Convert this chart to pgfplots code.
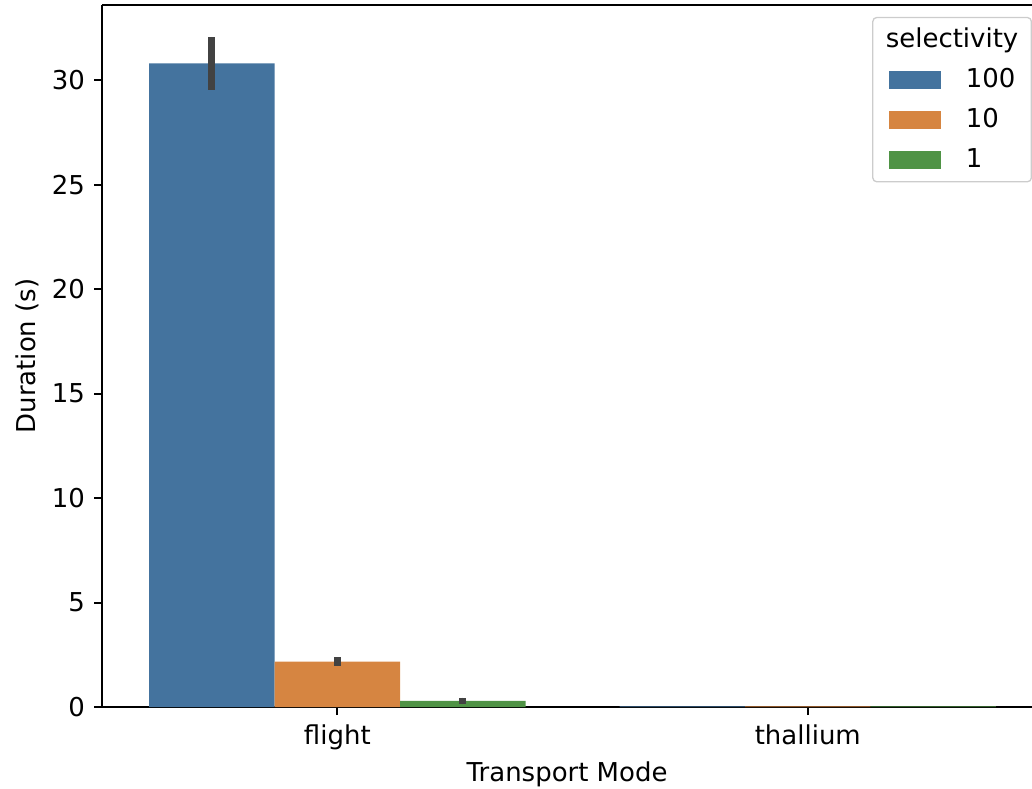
\documentclass[border=0pt]{standalone}
\usepackage{fontspec}
\setmainfont{DejaVu Sans}
\usepackage{pgfplots}
\pgfplotsset{compat=1.18}
\definecolor{cblue}{HTML}{44739E}
\definecolor{corange}{HTML}{D68541}
\definecolor{cgreen}{HTML}{4F9345}
\definecolor{cerr}{HTML}{424242}
\begin{document}
\begin{tikzpicture}
\begin{axis}[
  at={(0,0)}, anchor=south west,
  scale only axis,
  width=358pt, height=270.3pt,
  xmin=-0.5, xmax=1.4766,
  ymin=0, ymax=33.6,
  axis x line*=box,
  axis y line*=left,
  xtick pos=lower, ytick pos=left,
  axis line style={line width=0.8pt},
  every tick/.style={line width=0.8pt, black},
  tick align=outside,
  major tick length=3.1pt,
  xtick={0,1}, xticklabels={flight,thallium},
  ytick={0,5,10,15,20,25,30},
  /pgf/number format/assume math mode=true,
  tick label style={font=\fontsize{10}{12}\selectfont},
  label style={font=\fontsize{10}{12}\selectfont},
  xlabel={Transport Mode},
  ylabel={Duration (s)},
  xlabel style={yshift=2pt},
  ylabel style={yshift=-2pt},
  clip=false,
  bar width=0.2667,
  legend style={at={(1.0,0.983)}, anchor=north east,
    draw=black!20, rounded corners=1.5pt, line width=0.5pt,
    font=\fontsize{10}{12}\selectfont,
    row sep=2.5pt, inner xsep=3pt, inner ysep=2pt},
  legend cell align=left,
  legend image code/.code={\fill[#1,draw=none,sharp corners] (3.3pt,-3.6pt) rectangle (23.3pt,3.6pt); \path[draw=none,fill=none] (0pt,0pt) (30.8pt,0pt);},
  error bars/error bar style={line width=2.7pt, cerr},
  error bars/error mark=none,
]
\addlegendimage{empty legend}
\addlegendentry{\hspace{-30.8pt}selectivity}
\addplot[ybar, fill=cblue, draw=none, bar shift=0,
  error bars/.cd, y dir=both, y explicit]
  coordinates {(-0.2667,30.8) +- (0,1.27) (0.7333,0.03) +- (0,0)};
\addlegendentry{100}
\addplot[ybar, fill=corange, draw=none, bar shift=0,
  error bars/.cd, y dir=both, y explicit]
  coordinates {(0,2.17) +- (0,0.21) (1,0.03) +- (0,0)};
\addlegendentry{10}
\addplot[ybar, fill=cgreen, draw=none, bar shift=0,
  error bars/.cd, y dir=both, y explicit]
  coordinates {(0.2667,0.29) +- (0,0.16) (1.2667,0.03) +- (0,0)};
\addlegendentry{1}
\end{axis}
\pgfresetboundingbox
\path (-39.3pt,-31.2pt) rectangle (358pt,272.2pt);
\end{tikzpicture}
\end{document}
